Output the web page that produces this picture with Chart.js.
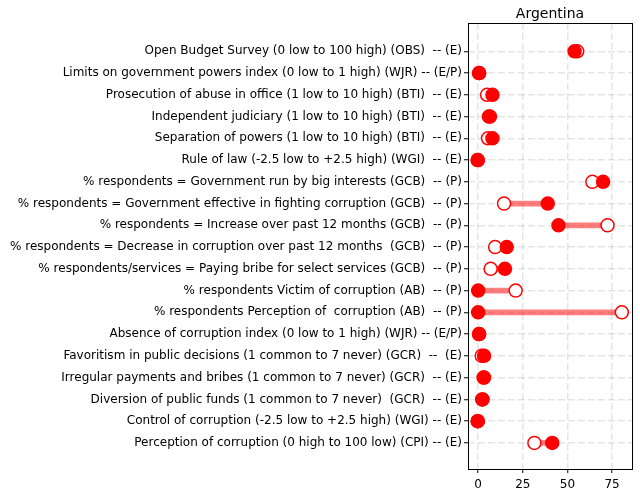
<!DOCTYPE html>
<html>
<head>
<meta charset="utf-8">
<script src="https://cdn.jsdelivr.net/npm/chart.js@4/dist/chart.umd.min.js"></script>
<style>
html,body{margin:0;padding:0;background:#fff;}
#wrap{width:640px;height:496px;}
</style>
</head>
<body>
<div id="wrap"><canvas id="c" width="640" height="496"></canvas></div>
<script>
const chartTitle = "Argentina";
const categories = [
  "Open Budget Survey (0 low to 100 high) (OBS)  -- (E)",
  "Limits on government powers index (0 low to 1 high) (WJR) -- (E/P)",
  "Prosecution of abuse in office (1 low to 10 high) (BTI)  -- (E)",
  "Independent judiciary (1 low to 10 high) (BTI)  -- (E)",
  "Separation of powers (1 low to 10 high) (BTI)  -- (E)",
  "Rule of law (-2.5 low to +2.5 high) (WGI)  -- (E)",
  "% respondents = Government run by big interests (GCB)  -- (P)",
  "% respondents = Government effective in fighting corruption (GCB)  -- (P)",
  "% respondents = Increase over past 12 months (GCB)  -- (P)",
  "% respondents = Decrease in corruption over past 12 months  (GCB)  -- (P)",
  "% respondents/services = Paying bribe for select services (GCB)  -- (P)",
  "% respondents Victim of corruption (AB)  -- (P)",
  "% respondents Perception of  corruption (AB)  -- (P)",
  "Absence of corruption index (0 low to 1 high) (WJR) -- (E/P)",
  "Favoritism in public decisions (1 common to 7 never) (GCR)  --  (E)",
  "Irregular payments and bribes (1 common to 7 never) (GCR)  -- (E)",
  "Diversion of public funds (1 common to 7 never)  (GCR)  -- (E)",
  "Control of corruption (-2.5 low to +2.5 high) (WGI) -- (E)",
  "Perception of corruption (0 high to 100 low) (CPI) -- (E)"
];
// filled markers (one period) and hollow markers (other period)
const filledValues = [54, 0.55, 8, 6.6, 8, -0.2, 70, 39, 45, 16, 15, 0, 0, 0.55, 3.3, 3.3, 2.4, -0.2, 41.5];
const hollowValues = [55.5, 0.5, 5, 6, 5.5, -0.3, 64, 14.5, 72.5, 9.5, 7, 21, 80.5, 0.5, 2, 3, 2.3, -0.3, 31.5];
const xTicks = [0, 25, 50, 75];

const filledPts = categories.map((c, i) => ({x: filledValues[i], y: i}));
const hollowPts = categories.map((c, i) => ({x: hollowValues[i], y: i}));
const rangePts = categories.map((c, i) => ({x: [Math.min(filledValues[i], hollowValues[i]), Math.max(filledValues[i], hollowValues[i])], y: i}));

const framePlugin = {
  id: 'frame',
  afterDatasetsDraw(chart) {
    const a = chart.chartArea, ctx = chart.ctx;
    ctx.save();
    ctx.strokeStyle = '#000';
    ctx.lineWidth = 1;
    ctx.strokeRect(Math.round(a.left) + 0.5, Math.round(a.top) + 0.5, Math.round(a.right - a.left), Math.round(a.bottom - a.top));
    ctx.fillStyle = '#000';
    ctx.font = '14px "DejaVu Sans"';
    ctx.textAlign = 'center';
    ctx.textBaseline = 'alphabetic';
    ctx.fillText(chartTitle, (a.left + a.right) / 2, a.top - 5);
    ctx.restore();
  }
};

new Chart(document.getElementById('c'), {
  data: {
    datasets: [
      {type: 'bar', data: rangePts, backgroundColor: 'rgba(255,0,0,0.5)', borderWidth: 0, barThickness: 5, order: 3},
      {type: 'scatter', data: hollowPts, pointRadius: 6.5, pointBackgroundColor: '#fff', pointBorderColor: 'red', pointBorderWidth: 1.5, order: 2},
      {type: 'scatter', data: filledPts, pointRadius: 6.5, pointBackgroundColor: 'red', pointBorderColor: 'red', pointBorderWidth: 1.5, order: 1}
    ]
  },
  options: {
    indexAxis: 'y',
    responsive: false,
    animation: false,
    devicePixelRatio: 1,
    layout: {padding: {top: 23, right: 6, left: 0, bottom: 0}},
    plugins: {legend: {display: false}, tooltip: {enabled: false}, title: {display: false}},
    scales: {
      x: {
        type: 'linear', min: -5.7, max: 86.2, offset: false,
        afterBuildTicks: s => { s.ticks = xTicks.map(v => ({value: v})); },
        afterFit: s => { s.height = 27; },
        grid: {offset: false, color: 'rgba(0,0,0,0.1)', lineWidth: 1.5, tickColor: '#000', tickLength: 4, tickWidth: 1, tickBorderDash: []},
        border: {display: false, dash: [7, 3]},
        ticks: {color: '#000', font: {family: 'DejaVu Sans', size: 12}, padding: 5, maxRotation: 0}
      },
      y: {
        type: 'linear', min: -1.3, max: 19.2, reverse: true, offset: false,
        afterBuildTicks: s => { s.ticks = categories.map((c, i) => ({value: i})); },
        afterFit: s => { s.width = 468; },
        grid: {offset: false, color: 'rgba(0,0,0,0.1)', lineWidth: 1.5, tickColor: '#000', tickLength: 4, tickWidth: 1, tickBorderDash: []},
        border: {display: false, dash: [7, 3]},
        ticks: {color: '#000', font: {family: 'DejaVu Sans', size: 12}, padding: 2, autoSkip: false,
          callback: v => categories[v]}
      }
    }
  },
  plugins: [framePlugin]
});
</script>
</body>
</html>
